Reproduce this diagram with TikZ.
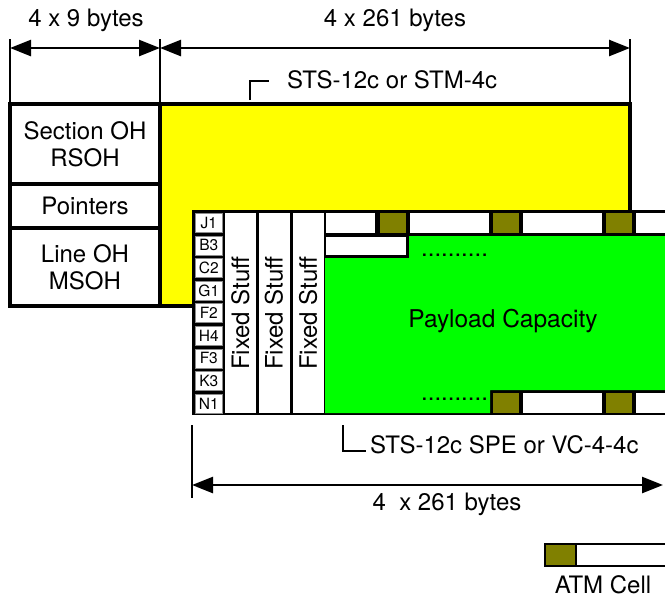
\documentclass[tikz,border=0pt]{standalone}
\usepackage{fontspec}
\setmainfont{TeX Gyre Heros}
\usetikzlibrary{arrows.meta, positioning}
\definecolor{PayYellow}{RGB}{255, 255, 0}
\definecolor{PayGreen}{RGB}{0, 255, 0}
\definecolor{CellHead}{RGB}{128, 128, 0}
\begin{document}
\begin{tikzpicture}[x=1pt, y=-1pt, line join=miter,
  txt/.style={font=\fontsize{24}{27}\selectfont, align=center, inner sep=0pt},
  ohbox/.style={txt, draw, line width=3.5pt, fill=white, anchor=north west, outer sep=0pt},
  poh/.style={draw=black!45, line width=0.6pt, fill=white, anchor=north west, minimum width=27pt, minimum height=19pt, inner sep=0pt, font=\fontsize{15.5}{15.5}\selectfont},
  fixed/.style={txt, fill=white, rotate=90, minimum width=200pt, minimum height=31pt},
  hdr/.style={fill=CellHead, anchor=north west, minimum width=26pt, minimum height=20pt, inner sep=0pt, outer sep=0pt},
  body/.style={fill=white, anchor=north west, minimum height=20pt, inner sep=0pt, outer sep=0pt},
  tick/.style={line width=2.5pt}, brk/.style={line width=1.5pt},
  dim/.style={{Triangle[length=21pt,width=16pt]}-{Triangle[length=21pt,width=16pt]}, line width=2.5pt}]
\useasboundingbox (0,0) rectangle (665,598);
\clip (0,0) rectangle (665,598);
% transport overhead and payload frame
\node[ohbox, minimum width=150pt, minimum height=80pt] (soh) at (10,104) {Section OH\\RSOH};
\node[ohbox, minimum width=150pt, minimum height=44pt] (ptr) at (10,184) {Pointers};
\node[ohbox, minimum width=150pt, minimum height=78pt] (loh) at (10,228) {Line OH\\MSOH};
\node[ohbox, fill=PayYellow, minimum width=470pt, minimum height=202pt] (sts) at (160,104) {};
\coordinate (t0) at (10,39); \coordinate (t1) at (160,39); \coordinate (t2) at (630,39);
\coordinate (a0) at (10,48); \coordinate (a1) at (160,48); \coordinate (a2) at (630,48);
\draw[tick] (t0) -- (soh.north west); \draw[tick] (t1) -- (soh.north east); \draw[tick] (t2) -- (sts.north east);
\draw[dim] (a0) -- (a1); \draw[dim] (a1) -- (a2);
\node[txt] (lab9) at (86,20) {4 x 9 bytes};
\node[txt] (lab261) at (395,20) {4 x 261 bytes};
\node[txt, anchor=west] (stslab) at (287,80) {STS-12c or STM-4c};
\coordinate (stsA) at (250,100); \coordinate (stsB) at (269,81);
\draw[brk] (stsA) |- (stsB);
% SPE
\node[fill=black, anchor=north west, minimum width=490pt, minimum height=205pt, inner sep=0pt] (spe) at (192,210) {};
\foreach \lab [count=\i from 0] in {J1,B3,C2,G1,F2,H4,F3,K3,N1}
  \node[poh] (poh\i) at (195,213+\i*22.6) {\lab};
\foreach \x [count=\i] in {240.5,274,308}
  \node[fixed] (fs\i) at (\x,313) {Fixed Stuff};
\fill[PayGreen] (325,258) -- (409,258) -- (409,236) -- (682,236) -- (682,390) -- (490,390) -- (490,413) -- (325,413) -- cycle;
\node[txt, font=\fontsize{24.5}{24.5}\selectfont] (pay) at (503,321) {Payload Capacity};
% ATM cells
\node[body, minimum width=49pt] (top0) at (326,213) {};
\node[body, minimum width=80pt, minimum height=18pt] (mid0) at (326,237) {};
\foreach \x [count=\i] in {380,493,606} {
  \node[hdr] (toph\i) at (\x,213) {};
  \node[body, minimum width=79pt] (topb\i) at (\x+30,213) {};
}
\foreach \x [count=\i] in {493,606} {
  \node[hdr] (both\i) at (\x,393) {};
  \node[body, minimum width=79pt] (botb\i) at (\x+30,393) {};
}
\node[txt, anchor=base west] (dotsT) at (421,256) {..........};
\node[txt, anchor=base west] (dotsB) at (421,400) {..........};
% SPE labels
\coordinate (speA) at (343,425); \coordinate (speB) at (366,451);
\draw[brk] (speA) |- (speB);
\node[txt, anchor=base west] (spelab) at (370,453) {STS-12c SPE or VC-4-4c};
\coordinate (bt0) at (192,425); \coordinate (bt1) at (192,498);
\coordinate (bl) at (192,485); \coordinate (br) at (663,485);
\draw[tick] (bt0) -- (bt1);
\draw[dim] (bl) -- (br);
\node[txt] (botlab) at (447,504) {4\ \ x 261 bytes};
% legend
\node[hdr, draw, line width=2.5pt, minimum width=31pt, minimum height=22pt] (leghdr) at (545,544) {};
\node[body, draw, line width=2.5pt, minimum width=100pt, minimum height=22pt] (legbody) at (leghdr.north east) {};
\node[txt] (leglab) at (603,585) {ATM Cell};
\end{tikzpicture}
\end{document}
